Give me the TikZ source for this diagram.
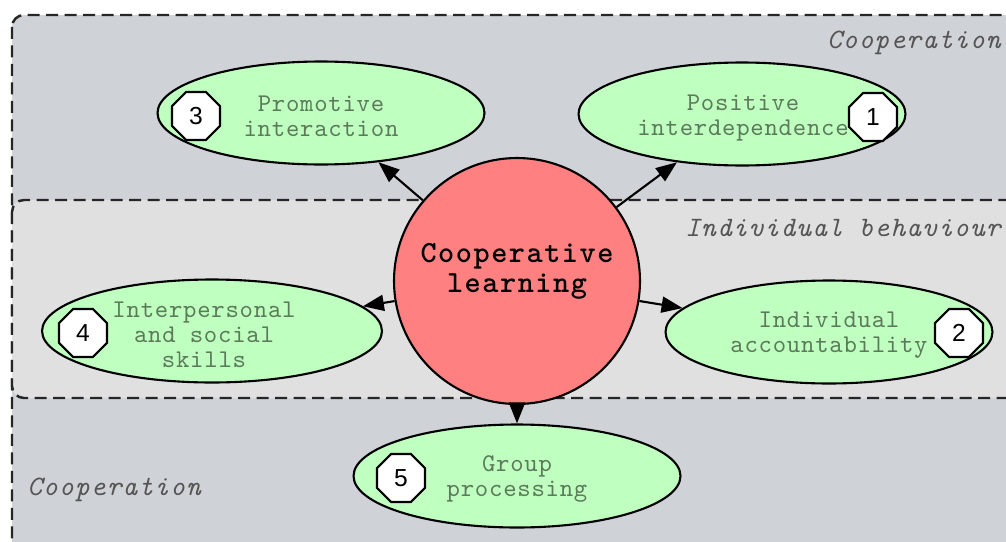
\documentclass[tikz,border=0pt]{standalone}
\usepackage{fontspec}
\setsansfont{Liberation Sans}
\newfontfamily\elemfont[LetterSpace=3]{lmmono10-regular.otf}
\newfontfamily\hubfont[LetterSpace=5]{lmmonolt10-bold.otf}
\newfontfamily\regionfont[LetterSpace=4]{lmmono10-italic.otf}
\usetikzlibrary{shapes.geometric,arrows.meta}
\definecolor{coopgray}{HTML}{CFD2D6}
\definecolor{indivgray}{HTML}{E0E0E0}
\definecolor{nodegreen}{HTML}{BFFFBF}
\definecolor{hubred}{HTML}{FF8080}
\definecolor{labeltext}{HTML}{5A7A5A}
\definecolor{regiontext}{HTML}{555555}
\begin{document}
\begin{tikzpicture}[x=0.02cm,y=-0.02cm,
  region/.style={draw=black!85, line width=1.4pt, dash pattern=on 0.24cm off 0.13cm, rounded corners=0.24cm},
  regionlabel/.style={font=\regionfont\fontsize{16}{18}\selectfont, text=regiontext, inner sep=0pt},
  element/.style={ellipse, draw, fill=nodegreen, line width=1.2pt, minimum width=6.54cm, minimum height=2.06cm, inner sep=0pt},
  elementtext/.style={font=\elemfont\fontsize{14.5}{14.2}\selectfont, text=labeltext, align=center, inner sep=0pt},
  badge/.style={regular polygon, regular polygon sides=8, draw, fill=white, line width=1.2pt, minimum size=1.04cm, inner sep=0pt, font=\sffamily\fontsize{14}{14}\selectfont},
  hub/.style={circle, draw, fill=hubred, line width=1.2pt, minimum size=4.92cm, inner sep=0pt},
  link/.style={line width=1.2pt, -{Triangle[length=0.42cm,width=0.32cm]}}]
\useasboundingbox (0,0) rectangle (1006,541);
\clip (0,0) rectangle (1006,541);

% regions
\draw[region, fill=coopgray] (12,15) rectangle (1030,560);
\draw[region, fill=indivgray] (12,200) rectangle (1030,398);
\node[regionlabel, anchor=east] (coopTop) at (1001,43) {Cooperation};
\node[regionlabel, anchor=east] (indiv) at (1001,228) {Individual behaviour};
\node[regionlabel, anchor=west] (coopBottom) at (27,490) {Cooperation};

% central concept
\node[hub] (hub) at (517,281) {};
\node[font=\hubfont\fontsize{17.5}{17}\selectfont, align=center, inner sep=0pt] (hubtext) at (517,271) {Cooperative\\learning};

% five elements
\node[element] (e3) at (321,113) {};
\node[element] (e1) at (742,114) {};
\node[element, minimum width=6.8cm] (e4) at (212,331) {};
\node[element] (e2) at (829,332) {};
\node[element] (e5) at (517,476) {};

\node[elementtext] (t3) at (321,116) {Promotive\\interaction};
\node[elementtext] (t1) at (743,118) {Positive\\interdependence};
\node[elementtext] (t4) at (204,335) {Interpersonal\\and social\\skills};
\node[elementtext] (t2) at (829,335) {Individual\\accountability};
\node[elementtext] (t5) at (517,479) {Group\\processing};

\node[badge] (b3) at (196,116) {3};
\node[badge] (b1) at (873,117) {1};
\node[badge] (b4) at (83,333) {4};
\node[badge] (b2) at (959,333) {2};
\node[badge] (b5) at (401,478) {5};

% connectors
\draw[link] (hub) -- (e3);
\draw[link] (hub) -- (e1);
\draw[link] (hub) -- (e4);
\draw[link] (hub) -- (e2);
\draw[link] (hub) -- (e5);
\end{tikzpicture}
\end{document}
